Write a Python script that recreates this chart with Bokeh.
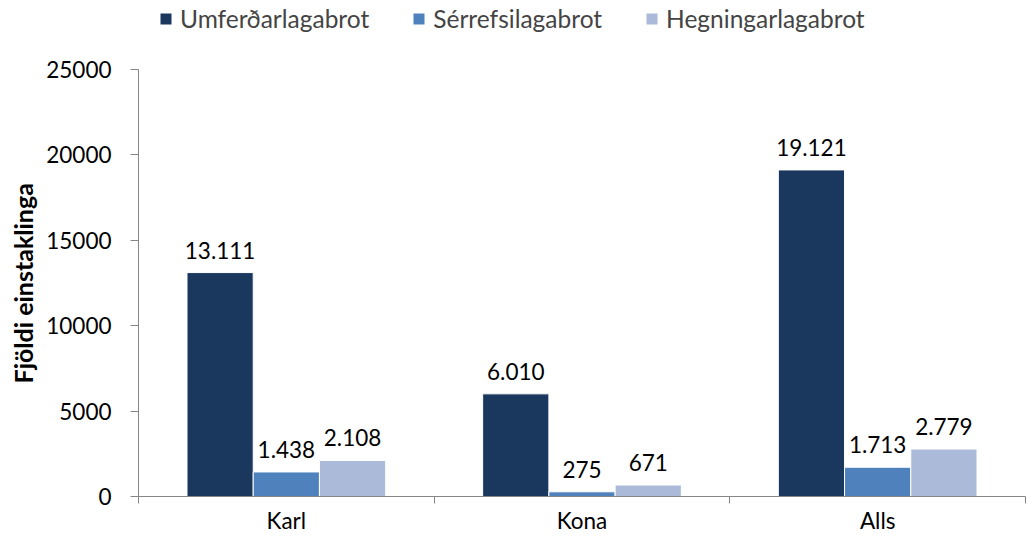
from bokeh.plotting import figure
from bokeh.models import ColumnDataSource, FixedTicker, Legend, LegendItem, Range1d, NumeralTickFormatter, Title
from bokeh.transform import dodge
from bokeh.embed import file_html
from bokeh.resources import INLINE
from bokeh.core.properties import value

categories = ["Karl", "Kona", "Alls"]
series = ["Umferðarlagabrot", "Sérrefsilagabrot", "Hegningarlagabrot"]
umferd = [13111, 6010, 19121]
serrefsi = [1438, 275, 1713]
hegning = [2108, 671, 2779]
y_ticks = [0, 5000, 10000, 15000, 20000, 25000]
colors = ["#1A375E", "#4F81BD", "#AABAD8"]

FONT = "Lato"
FS = "22.5px"
GRAY = "#868686"

pos = [i + 0.5 for i in range(len(categories))]
bounds = list(range(len(categories) + 1))

def fmt(v):
    return f"{v:,}".replace(",", ".")

src = ColumnDataSource(dict(
    pos=pos, cat=categories,
    s0=umferd, s1=serrefsi, s2=hegning,
    l0=[fmt(v) for v in umferd], l1=[fmt(v) for v in serrefsi], l2=[fmt(v) for v in hegning],
))

# frame extends to the top of the canvas so the legend sits inside it;
# the y axis itself is bounded to 0..25000
y_max = y_ticks[-1]
y_top = y_max * 496 / 427

p = figure(width=1027, height=543, output_backend="svg", toolbar_location=None,
           x_range=Range1d(0, len(categories)), y_range=Range1d(0, y_top),
           min_border_left=135, min_border_right=2, min_border_top=0, min_border_bottom=47)
p.outline_line_color = None
p.xgrid.grid_line_color = None
p.ygrid.grid_line_color = None

bw = 0.224
offsets = [-bw, 0.0, bw]
items = []
for k, (name, off, col) in enumerate(zip(series, offsets, colors)):
    r = p.vbar(x=dodge("pos", off, range=p.x_range), top=f"s{k}", width=bw, bottom=0,
               source=src, fill_color=col, line_color="white", line_width=1)
    items.append(LegendItem(label=name, renderers=[r]))
    p.text(x=dodge("pos", off, range=p.x_range), y=f"s{k}", text=f"l{k}", source=src,
           text_align="center", text_baseline="bottom", y_offset=-14,
           text_font=value(FONT), text_font_size=FS, text_color="black")

legend = Legend(items=items, orientation="horizontal", location=(20, 463),
                glyph_width=15, glyph_height=15, label_standoff=7, spacing=42,
                padding=0, margin=0, border_line_color=None, background_fill_alpha=0,
                label_text_font=FONT, label_text_font_size="24.5px", label_height=20)
p.add_layout(legend)

ya = p.yaxis[0]
ya.bounds = (0, y_max)
ya.ticker = FixedTicker(ticks=y_ticks)
ya.formatter = NumeralTickFormatter(format="0")
ya.axis_line_color = GRAY
ya.major_tick_line_color = GRAY
ya.major_tick_out = 8
ya.major_tick_in = 0
ya.minor_tick_line_color = None
ya.major_label_text_font = FONT
ya.major_label_text_font_size = FS
ya.major_label_text_color = "black"
ya.major_label_standoff = 19

ytitle = Title(text="Fjöldi einstaklinga", align="left", offset=113, standoff=11,
               text_font=FONT, text_font_size="25px", text_font_style="bold", text_color="black")
p.add_layout(ytitle, "left")

xa = p.xaxis[0]
xa.ticker = FixedTicker(ticks=pos, minor_ticks=bounds)
xa.major_label_overrides = {pv: c for pv, c in zip(pos, categories)}
xa.axis_line_color = GRAY
xa.major_tick_line_color = None
xa.major_tick_out = 0
xa.major_tick_in = 0
xa.minor_tick_line_color = GRAY
xa.minor_tick_out = 7
xa.minor_tick_in = 0
xa.major_label_text_font = FONT
xa.major_label_text_font_size = FS
xa.major_label_text_color = "black"
xa.major_label_standoff = 3

open("out.html", "w").write(file_html(p, INLINE))
